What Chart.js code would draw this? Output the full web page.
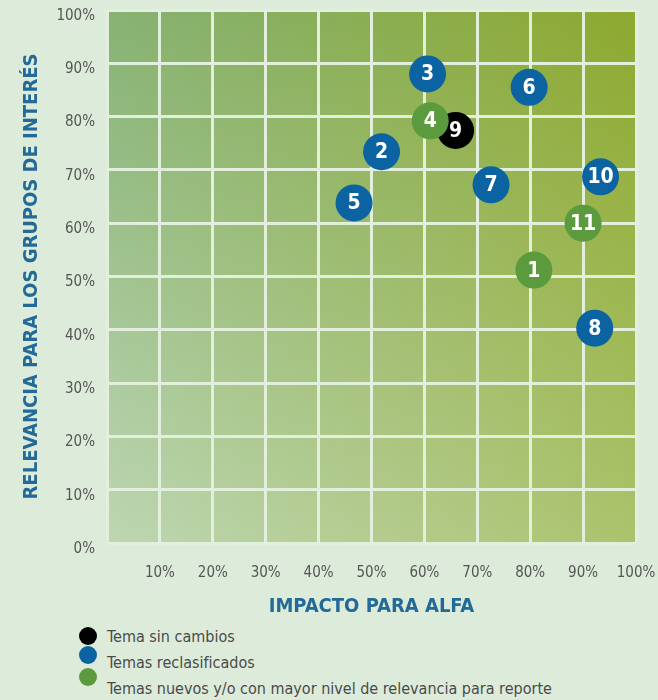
<!DOCTYPE html>
<html lang="es">
<head>
<meta charset="UTF-8">
<title>Materialidad</title>
<script src="https://cdn.jsdelivr.net/npm/chart.js"></script>
<style>
  body { margin: 0; background: #ddecda; }
  #wrap { position: relative; width: 658px; height: 700px; }
  #grafico { position: absolute; left: 0; top: 0; }
  .ley-punto { position: absolute; width: 18px; height: 18px; border-radius: 50%; }
  .ley-texto { position: absolute; font-family: 'Liberation Sans Narrow', 'DejaVu Sans Condensed', 'Roboto', sans-serif;
               font-size: 16px; color: #4a4a4a; white-space: nowrap; line-height: 20px; }
</style>
</head>
<body>
<div id="wrap">
  <canvas id="grafico" width="658" height="625"></canvas>
</div>
<script>
// series
var nombres = ['Temas nuevos y/o con mayor nivel de relevancia para reporte', 'Temas reclasificados', 'Tema sin cambios'];
var colores = ['#5b9a3d', '#0b64a1', '#000000'];

// temas nuevos (verde)
var verdeTemas = ['1', '4', '11'];
var verdeX = [80.7, 61.1, 90.0];
var verdeY = [51.2, 79.2, 60.0];

// temas reclasificados (azul)
var azulTemas = ['2', '3', '5', '6', '7', '8', '10'];
var azulX = [51.9, 60.6, 46.7, 79.8, 72.6, 92.2, 93.3];
var azulY = [73.4, 88.0, 63.8, 85.5, 67.2, 40.3, 68.7];

// tema sin cambios (negro)
var negroTemas = ['9'];
var negroX = [65.9];
var negroY = [77.4];

var ticksPct = [0, 10, 20, 30, 40, 50, 60, 70, 80, 90, 100];

var fuente = "'Liberation Sans Narrow', 'DejaVu Sans Condensed', 'Roboto', sans-serif";

function puntos(xs, ys, etiquetas) {
    return xs.map(function (x, i) { return { x: x, y: ys[i], tema: etiquetas[i] }; });
}

// fondo con degradado en las cuatro esquinas
var fondo = {
    id: 'fondo',
    beforeDraw: function (chart) {
        var a = chart.chartArea, ctx = chart.ctx;
        var tl = [134, 178, 116], tr = [142, 169, 47], bl = [189, 214, 179], br = [171, 195, 108];
        ctx.save();
        for (var x = a.left; x < a.right; x++) {
            var t = (x - a.left) / (a.right - a.left);
            var top = tl.map(function (c, k) { return Math.round(c + (tr[k] - c) * t); });
            var bot = bl.map(function (c, k) { return Math.round(c + (br[k] - c) * t); });
            var g = ctx.createLinearGradient(0, a.top, 0, a.bottom);
            g.addColorStop(0, 'rgb(' + top.join(',') + ')');
            g.addColorStop(1, 'rgb(' + bot.join(',') + ')');
            ctx.fillStyle = g;
            ctx.fillRect(x, a.top, 1.5, a.bottom - a.top);
        }
        ctx.restore();
    }
};

// numeros dentro de los circulos
var numeros = {
    id: 'numeros',
    afterDatasetDraw: function (chart, args) {
        var ctx = chart.ctx;
        var ds = chart.data.datasets[args.index];
        ctx.save();
        ctx.fillStyle = '#ffffff';
        ctx.font = 'bold 21px ' + fuente;
        ctx.textAlign = 'center';
        ctx.textBaseline = 'middle';
        args.meta.data.forEach(function (p, i) {
            ctx.fillText(ds.data[i].tema, p.x, p.y + 1);
        });
        ctx.restore();
    }
};

var conjuntos = [
    puntos(verdeX, verdeY, verdeTemas),
    puntos(azulX, azulY, azulTemas),
    puntos(negroX, negroY, negroTemas)
];

var ctx = document.getElementById('grafico').getContext('2d');
new Chart(ctx, {
    type: 'scatter',
    data: {
        datasets: conjuntos.map(function (d, i) {
            return {
                label: nombres[i],
                data: d,
                backgroundColor: colores[i],
                borderColor: colores[i],
                borderWidth: 0,
                pointRadius: 18.5,
                pointHoverRadius: 18.5,
                clip: false
            };
        })
    },
    plugins: [fondo, numeros],
    options: {
        responsive: false,
        animation: false,
        layout: { autoPadding: false, padding: { top: 10, right: 22, bottom: 0, left: 0 } },
        plugins: { legend: { display: false }, tooltip: { enabled: false } },
        scales: {
            x: {
                min: 0, max: 100,
                afterBuildTicks: function (s) { s.ticks = ticksPct.map(function (v) { return { value: v }; }); },
                afterFit: function (s) { s.height = 82; s.paddingLeft = 0; s.paddingRight = 0; },
                grid: { color: '#e2efdd', lineWidth: 3, drawTicks: false },
                border: { display: false },
                ticks: {
                    padding: 21,
                    color: '#555555',
                    font: { family: fuente, size: 15 },
                    maxRotation: 0,
                    autoSkip: false,
                    callback: function (v) { return v === 0 ? '' : v + '%'; }
                },
                title: {
                    display: true,
                    text: 'IMPACTO PARA ALFA',
                    color: '#236a98',
                    font: { family: fuente, size: 20, weight: 'bold' },
                    padding: { top: 6, bottom: 6 }
                }
            },
            y: {
                min: 0, max: 100,
                afterBuildTicks: function (s) { s.ticks = ticksPct.map(function (v) { return { value: v }; }); },
                afterFit: function (s) { s.width = 107; s.paddingTop = 0; s.paddingBottom = 0; },
                grid: { color: '#e2efdd', lineWidth: 3, drawTicks: false },
                border: { display: false },
                ticks: {
                    padding: 12,
                    labelOffset: 6,
                    color: '#555555',
                    font: { family: fuente, size: 15 },
                    autoSkip: false,
                    callback: function (v) { return v + '%'; }
                },
                title: {
                    display: true,
                    text: 'RELEVANCIA PARA LOS GRUPOS DE INTERÉS',
                    color: '#236a98',
                    font: { family: fuente, size: 20, weight: 'bold' },
                    padding: { top: 20, bottom: 0 }
                }
            }
        }
    }
});

// leyenda
var wrap = document.getElementById('wrap');
var leyPuntoY = [627, 646, 668];
var leyTextoY = [627, 653, 679];
[2, 1, 0].forEach(function (k, i) {
    var p = document.createElement('div');
    p.className = 'ley-punto';
    p.style.left = '79px';
    p.style.top = leyPuntoY[i] + 'px';
    p.style.background = colores[k];
    wrap.appendChild(p);
    var t = document.createElement('div');
    t.className = 'ley-texto';
    t.style.left = '107px';
    t.style.top = leyTextoY[i] + 'px';
    t.textContent = nombres[k];
    wrap.appendChild(t);
});
</script>
</body>
</html>
